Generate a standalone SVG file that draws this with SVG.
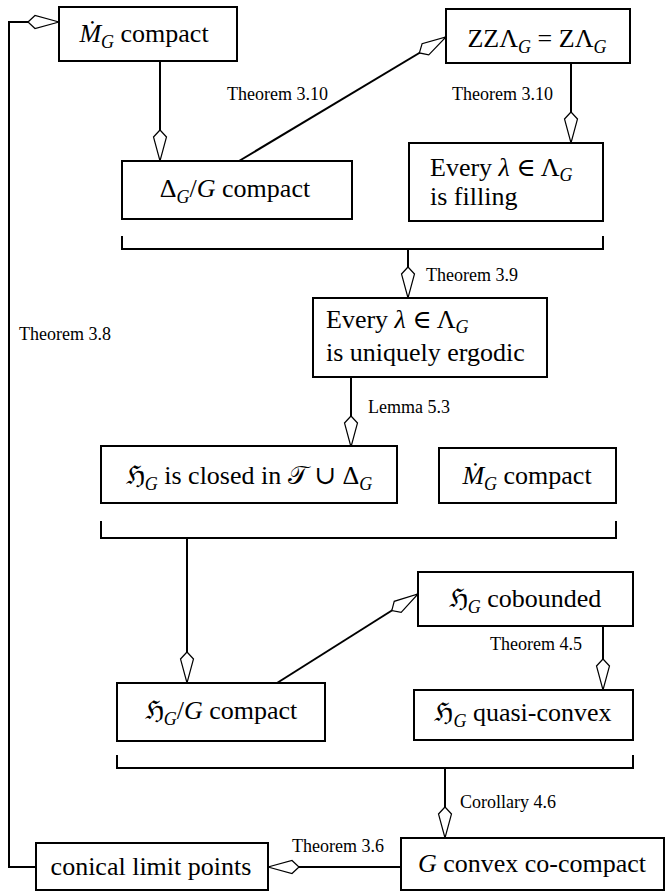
<svg xmlns="http://www.w3.org/2000/svg" width="670" height="892" viewBox="0 0 670 892">
<style>
.box{fill:#fff;stroke:#000;stroke-width:2}
.edge{fill:none;stroke:#000;stroke-width:2}
.arr{marker-end:url(#dia)}
.t{font-family:'Liberation Serif','DejaVu Serif',serif;font-size:26px;fill:#000}
.lab{font-family:'Liberation Serif',serif;font-size:18px;fill:#000}
.i{font-style:italic}
.sub{font-size:18px}
</style>
<defs>
<marker id="dia" markerUnits="userSpaceOnUse" viewBox="-2 -9 35 18" refX="31" refY="0" markerWidth="35" markerHeight="18" orient="auto">
<path d="M0,0 L7,-6.5 L31,0 L7,6.5 Z" fill="#fff" stroke="#000" stroke-width="1.2"/>
</marker>
</defs>

<g id="connectors">
<path class="edge arr" d="M36,867 H9 V22 H59"/>
<path class="edge arr" d="M160,61 V161"/>
<path class="edge arr" d="M239,161 L446,37"/>
<path class="edge arr" d="M571,63 V143"/>
<path class="edge" d="M122,236 V249 H603 V236"/>
<path class="edge arr" d="M408,249 V298"/>
<path class="edge arr" d="M351,377 V447"/>
<path class="edge" d="M101,521 V538 H616 V521"/>
<path class="edge arr" d="M187,538 V683"/>
<path class="edge arr" d="M277,683 L418,594"/>
<path class="edge arr" d="M603,626 V690"/>
<path class="edge" d="M117,755 V768 H633 V755"/>
<path class="edge arr" d="M445,768 V838"/>
<path class="edge arr" d="M401,867 H268"/>
<text class="lab" x="227" y="100">Theorem 3.10</text>
<text class="lab" x="452" y="100">Theorem 3.10</text>
<text class="lab" x="426" y="281">Theorem 3.9</text>
<text class="lab" x="19" y="340">Theorem 3.8</text>
<text class="lab" x="368" y="413">Lemma 5.3</text>
<text class="lab" x="490" y="650">Theorem 4.5</text>
<text class="lab" x="460" y="808">Corollary 4.6</text>
<text class="lab" x="292" y="852">Theorem 3.6</text>
</g>

<g id="mdot-compact-top">
<rect class="box" x="59" y="7" width="178" height="54"/>
<text class="t" x="144" y="42" text-anchor="middle"><tspan class="i">Ṁ</tspan><tspan class="i sub" dy="6">G</tspan><tspan dy="-6"> compact</tspan></text>
</g>

<g id="zz-lambda">
<rect class="box" x="446" y="9" width="184" height="54"/>
<text class="t" x="537" y="47" text-anchor="middle">ZZΛ<tspan class="i sub" dy="6">G</tspan><tspan dy="-6"> = ZΛ</tspan><tspan class="i sub" dy="6">G</tspan></text>
</g>

<g id="delta-compact">
<rect class="box" x="122" y="161" width="230" height="58"/>
<text class="t" x="235" y="197" text-anchor="middle">Δ<tspan class="i sub" dy="6">G</tspan><tspan dy="-6">/</tspan><tspan class="i">G</tspan> compact</text>
</g>

<g id="every-filling">
<rect class="box" x="409" y="143" width="194" height="78"/>
<text class="t" x="430" y="176">Every <tspan class="i">λ</tspan> ∈ Λ<tspan class="i sub" dy="5">G</tspan></text>
<text class="t" x="430" y="205">is filling</text>
</g>

<g id="uniquely-ergodic">
<rect class="box" x="313" y="298" width="234" height="79"/>
<text class="t" x="326" y="328">Every <tspan class="i">λ</tspan> ∈ Λ<tspan class="i sub" dy="5">G</tspan></text>
<text class="t" x="326" y="361">is uniquely ergodic</text>
</g>

<g id="h-closed">
<rect class="box" x="101" y="446" width="296" height="57"/>
<text class="t" x="249" y="484" text-anchor="middle">ℌ<tspan class="i sub" dy="6">G</tspan><tspan dy="-6"> is closed in 𝒯 ∪ Δ</tspan><tspan class="i sub" dy="6">G</tspan></text>
</g>

<g id="mdot-compact-mid">
<rect class="box" x="439" y="448" width="177" height="55"/>
<text class="t" x="527" y="484" text-anchor="middle"><tspan class="i">Ṁ</tspan><tspan class="i sub" dy="6">G</tspan><tspan dy="-6"> compact</tspan></text>
</g>

<g id="h-cobounded">
<rect class="box" x="418" y="572" width="215" height="54"/>
<text class="t" x="525" y="607" text-anchor="middle">ℌ<tspan class="i sub" dy="6">G</tspan><tspan dy="-6"> cobounded</tspan></text>
</g>

<g id="h-quotient-compact">
<rect class="box" x="117" y="683" width="208" height="58"/>
<text class="t" x="221" y="719" text-anchor="middle">ℌ<tspan class="i sub" dy="6">G</tspan><tspan dy="-6">/</tspan><tspan class="i">G</tspan> compact</text>
</g>

<g id="h-quasi-convex">
<rect class="box" x="414" y="690" width="219" height="50"/>
<text class="t" x="523" y="721" text-anchor="middle">ℌ<tspan class="i sub" dy="6">G</tspan><tspan dy="-6"> quasi-convex</tspan></text>
</g>

<g id="g-convex-cocompact">
<rect class="box" x="401" y="838" width="263" height="52"/>
<text class="t" x="532" y="872" text-anchor="middle"><tspan class="i">G</tspan> convex co-compact</text>
</g>

<g id="conical-limit-points">
<rect class="box" x="36" y="843" width="232" height="47"/>
<text class="t" x="151" y="875" text-anchor="middle">conical limit points</text>
</g>
</svg>
